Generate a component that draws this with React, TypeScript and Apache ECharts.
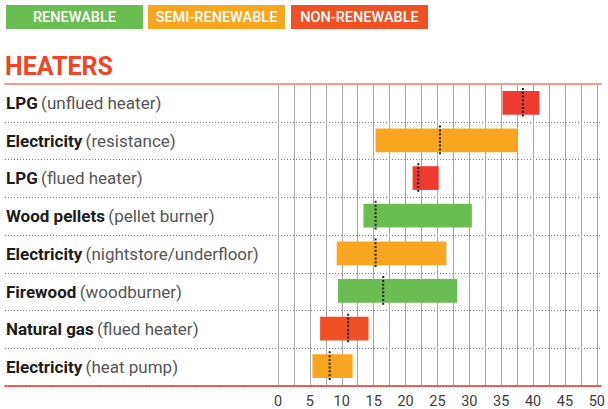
import React, { useEffect, useRef } from "react";
import * as echarts from "echarts";

const fuelNames = ["LPG", "Electricity", "LPG", "Wood pellets", "Electricity", "Firewood", "Natural gas", "Electricity"];
const heaterTypes = ["(unflued heater)", "(resistance)", "(flued heater)", "(pellet burner)", "(nightstore/underfloor)", "(woodburner)", "(flued heater)", "(heat pump)"];
const lowValues = [35.2, 15.3, 21.1, 13.4, 9.2, 9.4, 6.6, 5.4];
const highValues = [41.0, 37.6, 25.2, 30.4, 26.4, 28.1, 14.2, 11.7];
const medianValues = [38.4, 25.4, 22.0, 15.3, 15.3, 16.5, 11.0, 8.1];
const sourceKinds = ["non", "semi", "non", "renewable", "semi", "renewable", "non", "semi"];
const legendLabels = ["RENEWABLE", "SEMI-RENEWABLE", "NON-RENEWABLE"];
const xTicks = [0, 5, 10, 15, 20, 25, 30, 35, 40, 45, 50];

const kindColor: Record<string, string> = {
  renewable: "#6abd51",
  semi: "#f8a61f",
  non: "#f05124",
};
const lpgColor = "#ef3a2f";
const legendColors = ["#6abd51", "#f8a61f", "#f05124"];

const categories = fuelNames.map((f, i) => `${f} ${heaterTypes[i]}`);

export default function App() {
  const ref = useRef<HTMLDivElement>(null);
  useEffect(() => {
    if (!ref.current) return;
    const chart = echarts.init(ref.current, undefined, { renderer: "svg" });
    const font = "Roboto";
    const barData = categories.map((_, i) => [i, lowValues[i], highValues[i], medianValues[i]]);
    const legendGraphics: any[] = [];
    const lx = [6, 148, 291];
    legendLabels.forEach((t, i) => {
      legendGraphics.push({
        type: "rect",
        shape: { x: lx[i], y: 5, width: 137, height: 24 },
        style: { fill: legendColors[i] },
      });
      legendGraphics.push({
        type: "text",
        x: lx[i] + 68.5,
        y: 17.5,
        style: {
          text: t,
          fill: "#ffffff",
          font: `500 14.5px ${font}`,
          textAlign: "center",
          textVerticalAlign: "middle",
        },
      });
    });
    legendGraphics.push({
      type: "text",
      x: 5,
      y: 66.5,
      style: {
        text: "HEATERS",
        fill: "#ef4525",
        font: `bold 25px ${font}`,
        textAlign: "left",
        textVerticalAlign: "middle",
      },
    });

    chart.setOption({
      animation: false,
      graphic: legendGraphics,
      grid: [
        { left: 5, right: 7, top: 84, bottom: 23 },
        { left: 278, right: 7, top: 84, bottom: 23 },
      ],
      xAxis: [
        {
          gridIndex: 0, type: "value", position: "top", min: 0, max: 1,
          axisLine: { show: true, lineStyle: { color: "#f29a90", width: 2 } },
          axisTick: { show: false }, axisLabel: { show: false }, splitLine: { show: false },
        },
        {
          gridIndex: 0, type: "value", position: "bottom", min: 0, max: 1,
          axisLine: { show: true, lineStyle: { color: "#e8322b", width: 1.5 } },
          axisTick: { show: false }, axisLabel: { show: false }, splitLine: { show: false },
        },
        {
          gridIndex: 1, type: "value", min: 0, max: 50, interval: 2.5,
          axisLine: { show: false }, axisTick: { show: false },
          axisLabel: {
            margin: 9,
            color: "#3d3d3d",
            fontSize: 14.5,
            fontFamily: font,
            formatter: (v: number) => (xTicks.includes(v) ? String(v) : ""),
          },
          splitLine: { show: true, showMinLine: true, showMaxLine: true, lineStyle: { color: "#a9a9a9", width: 1 } },
        },
      ],
      yAxis: [
        {
          gridIndex: 0, type: "category", inverse: true, data: categories,
          axisLine: { show: false }, axisTick: { show: false },
          axisLabel: {
            align: "left",
            margin: -1,
            formatter: (_: string, i: number) => `{b|${fuelNames[i]}} {l|${heaterTypes[i]}}`,
            rich: {
              b: { fontFamily: font, fontSize: 17, fontWeight: "bold", color: "#1c1c1c" },
              l: { fontFamily: font, fontSize: 17, fontWeight: "normal", color: "#555555" },
            },
          },
          splitLine: { show: true, lineStyle: { color: "#7a7a7a", type: [1, 2], width: 1 } },
        },
        {
          gridIndex: 1, type: "category", inverse: true, data: categories,
          axisLine: { show: false }, axisTick: { show: false }, axisLabel: { show: false },
          splitLine: { show: false },
        },
      ],
      series: [
        {
          type: "custom",
          xAxisIndex: 2,
          yAxisIndex: 1,
          encode: { y: 0, x: [1, 2] },
          data: barData,
          renderItem: (params: any, api: any) => {
            const idx = api.value(0);
            const p1 = api.coord([api.value(1), idx]);
            const p2 = api.coord([api.value(2), idx]);
            const h = api.size([0, 1])[1] * 0.63;
            const color = fuelNames[idx] === "LPG" ? lpgColor : kindColor[sourceKinds[idx]];
            return {
              type: "rect",
              shape: { x: p1[0], y: p1[1] - h / 2, width: p2[0] - p1[0], height: h },
              style: { fill: color },
            };
          },
          z: 3,
        },
        {
          type: "custom",
          xAxisIndex: 2,
          yAxisIndex: 1,
          encode: { y: 0, x: 3 },
          data: barData,
          renderItem: (params: any, api: any) => {
            const idx = api.value(0);
            const p = api.coord([api.value(3), idx]);
            const h = api.size([0, 1])[1] * 0.63 + 6;
            return {
              type: "line",
              shape: { x1: p[0], y1: p[1] - h / 2, x2: p[0], y2: p[1] + h / 2 },
              style: { stroke: "#1e1e1e", lineWidth: 2, lineDash: [2, 1.8] },
            };
          },
          z: 4,
        },
      ],
    });
    return () => chart.dispose();
  }, []);
  return (
    <div
      ref={ref}
      style={{ position: "fixed", left: 0, top: 0, width: 608, height: 409, background: "#ffffff" }}
    />
  );
}
